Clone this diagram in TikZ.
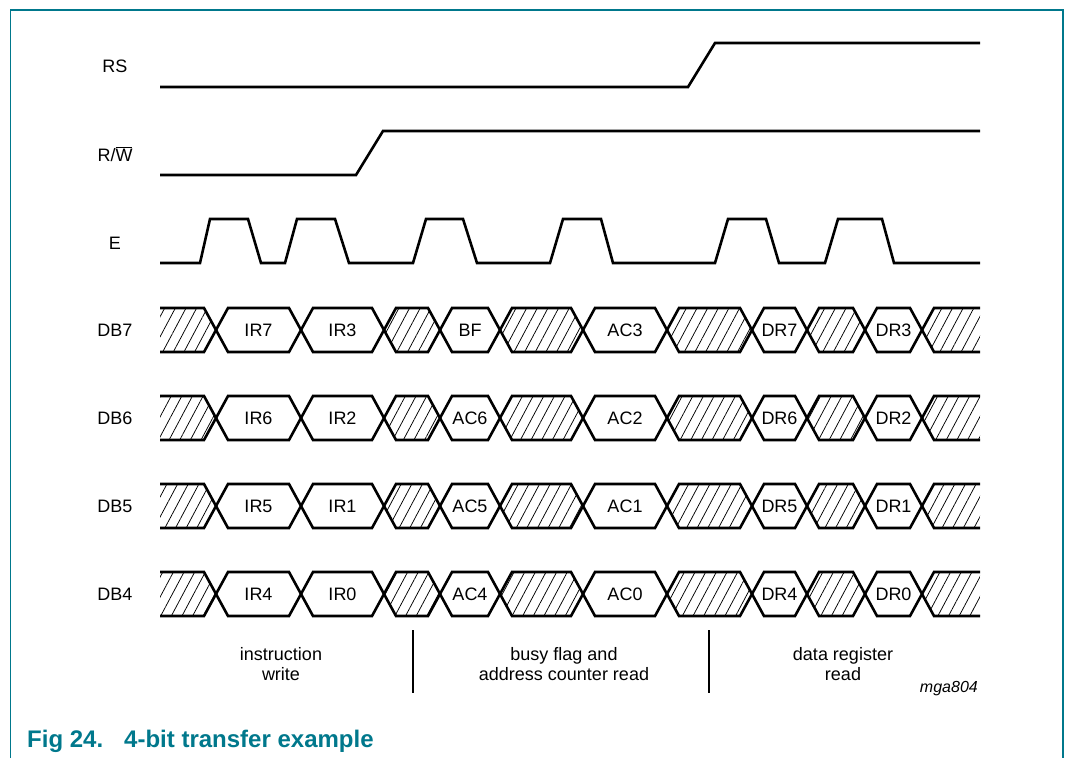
\documentclass[tikz,border=0pt]{standalone}
\usepackage{fontspec}
\setmainfont{Liberation Sans}
\usepackage{xcolor}
\usepackage{tikz}
\usetikzlibrary{patterns.meta}
\definecolor{nxpteal}{RGB}{0,120,140}

\begin{document}
\begin{tikzpicture}[x=1pt,y=-1pt,
  sig/.style={line width=2.6pt},
  bus/.style={line width=2.6pt},
  hatch/.style={pattern={Lines[angle=62,distance=9.4pt,line width=0.75pt]}},
  lbl/.style={inner sep=0pt,anchor=base,font=\fontsize{18}{20}\selectfont},
  phase/.style={lbl,anchor=north,align=center},
  divider/.style={line width=1.8pt},
  frame/.style={nxpteal,line width=1.3pt}]
\useasboundingbox (0,0) rectangle (1066,758);
% Frame
\draw[frame] (10.5,758) -- (10.5,10) -- (1063,10) -- (1063,758);
% Signal names
\node[lbl] (rs) at (115,72) {RS};
\node[lbl] (rw) at (115,161) {R/$\overline{\mbox{W}}$};
\node[lbl] (e) at (115,249) {E};
\foreach \yc/\n in {330/7, 418/6, 506/5, 594/4}
  \node[lbl] (db\n) at (115,\yc+6.5) {DB\n};
% Control lines
\draw[sig] (160,87) -- (688,87) -- (715,43) -- (980,43);
\draw[sig] (160,175) -- (356,175) -- (383,131) -- (980,131);
\draw[sig] (160,263) \foreach \a/\b/\c/\d in
  {200/210/248/261, 285/297/335/349, 413/426/463/477, 550/563/601/613, 715/728/766/779, 825/838/882/894}
  { -- (\a,263) -- (\b,219) -- (\c,219) -- (\d,263) } -- (980,263);
% Data bus DB7..DB4
\foreach \yc/\a/\b/\c/\d/\e/\f in
  {330/IR7/IR3/BF/AC3/DR7/DR3, 418/IR6/IR2/AC6/AC2/DR6/DR2,
   506/IR5/IR1/AC5/AC1/DR5/DR1, 594/IR4/IR0/AC4/AC0/DR4/DR0}
{
  % don't care parts
  \fill[hatch] (160,\yc-22) -- (204,\yc-22) -- (216,\yc) -- (204,\yc+22) -- (160,\yc+22) -- cycle;
  \foreach \xa/\xb in {384/440, 500/583, 667/752, 807/865}
    \fill[hatch] (\xa,\yc) -- (\xa+12,\yc-22) -- (\xb-12,\yc-22) -- (\xb,\yc)
      -- (\xb-12,\yc+22) -- (\xa+12,\yc+22) -- cycle;
  \fill[hatch] (922,\yc) -- (934,\yc-22) -- (980,\yc-22) -- (980,\yc+22) -- (934,\yc+22) -- cycle;
  % outline, two zigzags
  \foreach \m in {1,-1}
    \draw[bus] (160,{\yc-(\m)*22}) \foreach \x/\s in
      {216/1, 301/-1, 384/1, 440/-1, 500/1, 583/-1, 667/1, 752/-1, 807/1, 865/-1, 922/1}
      { -- (\x-12,{\yc-(\m)*(\s)*22}) -- (\x+12,{\yc+(\m)*(\s)*22}) } -- (980,{\yc+(\m)*22});
  % data values
  \foreach \xa/\xb/\t in {216/301/\a, 301/384/\b, 440/500/\c, 583/667/\d, 752/807/\e, 865/922/\f}
    \node[lbl] (\t) at ({(\xa+\xb)/2},\yc+6.5) {\t};
}
% Phases
\draw[divider] (413,630) -- (413,693);
\draw[divider] (709,630) -- (709,693);
\node[phase] (instwr) at (281,647) {instruction\\write};
\node[phase] (bfread) at (564,647) {busy flag and\\address counter read};
\node[phase] (drread) at (843,647) {data register\\read};
\node[inner sep=0pt,anchor=base east,font=\fontsize{16}{18}\selectfont\itshape] (mga) at (978,692) {mga804};
% Caption
\node[inner sep=0pt,anchor=base west,text=nxpteal,font=\fontsize{24}{28}\selectfont\bfseries] (cap)
  at (27,747) {Fig 24.\hspace{21pt}4-bit transfer example};
\end{tikzpicture}
\end{document}
